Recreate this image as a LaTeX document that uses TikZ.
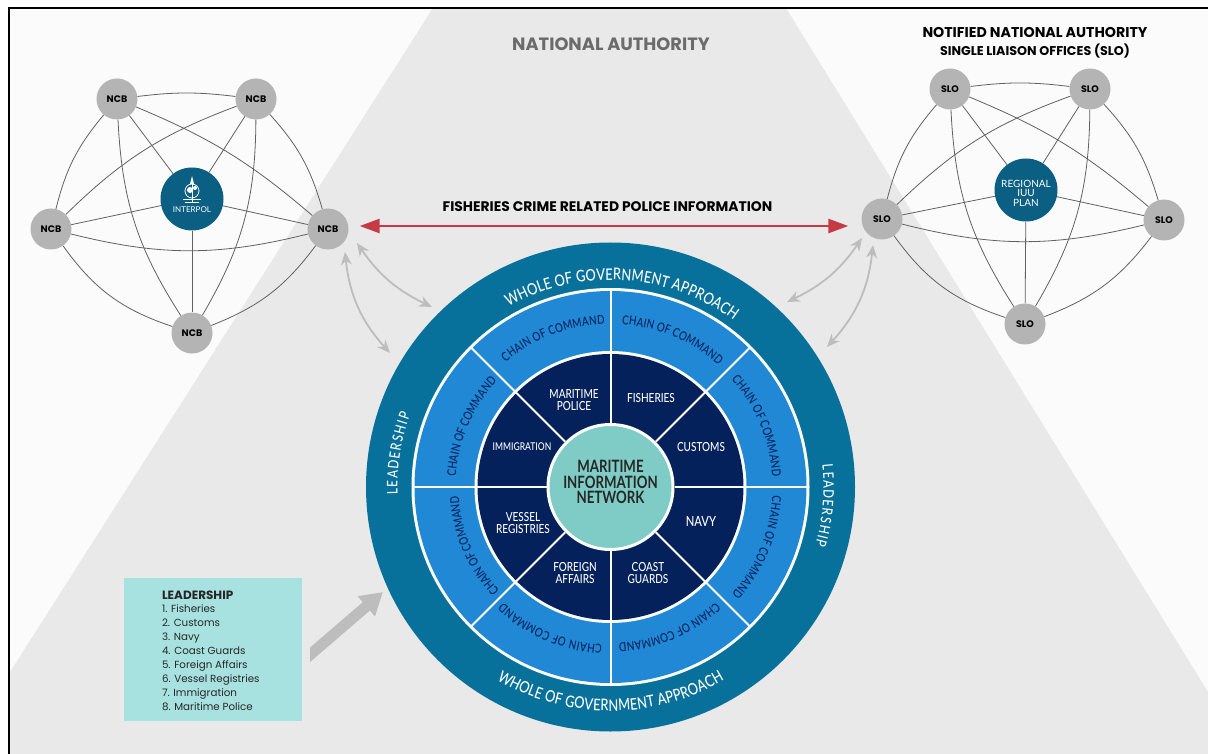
\documentclass[tikz,border=0pt]{standalone}
\usepackage{fontspec}
\setmainfont{Lato}
\newfontfamily\futfont{Poppins}
\newfontfamily\chainfont[FakeStretch=0.8]{Lato Medium}
\newfontfamily\centerfont[FakeStretch=0.78]{Lato Bold}
\usepackage{tikz}
\usetikzlibrary{arrows.meta,decorations.text,positioning,calc}
\definecolor{bggray}{HTML}{E9E9E9}
\definecolor{paper}{HTML}{FBFBFB}
\definecolor{nodegray}{HTML}{B4B4B4}
\definecolor{hubblue}{HTML}{0B5F82}
\definecolor{outerblue}{HTML}{07719B}
\definecolor{midblue}{HTML}{2088D4}
\definecolor{navy}{HTML}{04215C}
\definecolor{tealc}{HTML}{7FCCC6}
\definecolor{legendc}{HTML}{A8E2E0}
\definecolor{redarrow}{HTML}{C63A45}
\definecolor{grayarrow}{HTML}{BDBDBD}
\tikzset{
  netnode/.style={circle,fill=nodegray,minimum size=41pt,inner sep=0pt,font=\futfont\fontsize{9.5}{10}\bfseries\selectfont},
  hubnode/.style={circle,fill=hubblue,minimum size=63pt,inner sep=0pt},
  netline/.style={draw=black!62,line width=0.8pt},
  wheeltext/.style={text=white,align=center,font=\chainfont\fontsize{12.5}{12.5}\selectfont},
  title/.style={font=\futfont\fontsize{13.9}{15}\bfseries\selectfont},
  ringtext/.style={decorate,decoration={text along path,text align=fit to path,text color=white,text={|\chainfont\fontsize{16}{17}\selectfont|WHOLE OF GOVERNMENT APPROACH}}},
  leadertext/.style={decorate,decoration={text along path,text align=fit to path,text color=white,text={|\chainfont\fontsize{14.5}{16}\selectfont|LEADERSHIP}}},
  chaintext/.style={decorate,decoration={text along path,text align=fit to path,text color=navy,text={|\chainfont\fontsize{12.3}{13}\selectfont|CHAIN OF COMMAND}}},
  grayboth/.style={grayarrow,line width=1.8pt,{Stealth[length=13pt,width=11pt]}-{Stealth[length=13pt,width=11pt]}},
}
\begin{document}
\begin{tikzpicture}[x=1pt,y=1pt]
  \useasboundingbox (0,0) rectangle (1208,-754);
  \fill[white] (0,0) rectangle (1208,-754);
  \fill[paper] (8,-8) rectangle (1208,-754);
  \fill[bggray] (433,-8) -- (786,-8) -- (1208,-692) -- (1208,-754) -- (10,-754) -- (10,-672) -- cycle;
  \draw[black,line width=2pt] (9,-754) -- (9,-8) -- (1208,-8);

  % wheel
  \coordinate (hub) at (610.5,-487);
  \fill[outerblue] (hub) circle (244.5);
  \fill[white] (hub) circle (199);
  \fill[midblue] (hub) circle (196);
  \fill[white] (hub) circle (136);
  \fill[navy] (hub) circle (133);
  \foreach \a in {0,45,...,315}
    \draw[white,line width=2pt] ($(hub)+(\a:64)$) -- ($(hub)+(\a:197)$);
  \node[circle,fill=tealc,draw=white,line width=3pt,minimum size=125pt,inner sep=0pt] (network) at (hub) {};
  \node[align=center,font=\centerfont\fontsize{17}{15.5}\selectfont,text=black!85] (networktext) at (610.5,-482) {MARITIME\\INFORMATION\\NETWORK};

  \path[ringtext] ($(hub)+(119.5:207)$) arc (119.5:53.5:207);
  \path[ringtext] ($(hub)+(239.5:224)$) arc (239.5:300.5:224);
  \path[leadertext] ($(hub)+(182:213)$) arc (182:160:213);
  \path[leadertext] ($(hub)+(6:213)$) arc (6:-16:213);
  \foreach \st/\en/\ra in {130/92/163,86/48.5/163,41.7/3.5/162,-3/-41.6/162,-47.7/-87/156,-93/-132.8/158,223/183.5/152,176/137/155}
    \path[chaintext] ($(hub)+(\st:\ra)$) arc (\st:\en:\ra);

  \node[wheeltext] (police) at (574,-400) {MARITIME\\POLICE};
  \node[wheeltext] (fisheries) at (651,-398) {FISHERIES};
  \node[wheeltext,font=\chainfont\fontsize{10.7}{11}\selectfont] (immigration) at (522,-447) {IMMIGRATION};
  \node[wheeltext] (customs) at (701,-447) {CUSTOMS};
  \node[wheeltext] (vessel) at (523,-523) {VESSEL\\REGISTRIES};
  \node[wheeltext,font=\chainfont\fontsize{14}{14}\selectfont] (navyl) at (701,-521) {NAVY};
  \node[wheeltext] (foreign) at (575,-573) {FOREIGN\\AFFAIRS};
  \node[wheeltext] (coast) at (648,-573) {COAST\\GUARDS};

  % NCB network
  \node[netnode] (ncbA) at (117,-99) {NCB};
  \node[netnode] (ncbB) at (256,-99) {NCB};
  \node[netnode] (ncbC) at (51,-229) {NCB};
  \node[netnode] (ncbD) at (328,-229) {NCB};
  \node[netnode] (ncbE) at (192,-333) {NCB};
  \node[hubnode] (interpol) at (192,-199) {};
  \node[text=white,inner sep=0pt,font=\fontsize{8}{9}\selectfont] (interpolname) at (192,-210) {INTERPOL};
  \draw[white,line width=.8pt] (192,-191) circle (7);
  \fill[white] (190,-190) circle (3) (195,-188) circle (2);
  \fill[white] (192,-176) -- (194,-184) -- (190,-184) -- cycle;
  \draw[white,line width=1pt] (192,-184) -- (192,-203) (183,-200) -- (201,-200) (185,-203) -- (199,-203);
  \foreach \a/\b/\c in {A/B/7,C/A/13,B/D/13,E/C/18,D/E/16,D/C/14,E/A/15,B/E/15,A/D/9,C/B/12}
    \draw[netline] (ncb\a) to[bend left=\c] (ncb\b);
  \foreach \a in {A,B,C,D,E}
    \draw[netline] (interpol) -- (ncb\a);

  % SLO network
  \node[netnode] (sloA) at (950,-89) {SLO};
  \node[netnode] (sloB) at (1090,-89) {SLO};
  \node[netnode] (sloC) at (882,-219) {SLO};
  \node[netnode] (sloD) at (1164,-220) {SLO};
  \node[netnode] (sloE) at (1025,-324) {SLO};
  \node[hubnode] (plan) at (1026,-190) {};
  \node[text=white,align=center,inner sep=0pt,font=\fontsize{10}{9.5}\selectfont] (plantext) at (1026,-193) {REGIONAL\\IUU\\PLAN};
  \foreach \a/\b/\c in {A/B/7,C/A/13,B/D/13,E/C/18,D/E/16,D/C/14,E/A/15,B/E/15,A/D/9,C/B/12}
    \draw[netline] (slo\a) to[bend left=\c] (slo\b);
  \foreach \a in {A,B,C,D,E}
    \draw[netline] (plan) -- (slo\a);

  % arrows
  \draw[redarrow,line width=2.8pt,{Triangle[length=20pt,width=14pt]}-{Triangle[length=20pt,width=14pt]},shorten <=11pt,shorten >=13pt]
    ([yshift=3pt]ncbD.east) -- ([yshift=-7pt]sloC.west);
  \node[title] (crime) at (607.5,-207) {FISHERIES CRIME RELATED POLICE INFORMATION};
  \coordinate (ncbTipA) at (345,-252);
  \coordinate (ncbEndA) at (390,-353);
  \coordinate (ncbTipB) at (357,-243);
  \coordinate (ncbEndB) at (432,-307);
  \coordinate (sloTipA) at (862,-238);
  \coordinate (sloEndA) at (787,-302);
  \coordinate (sloTipB) at (873,-245);
  \coordinate (sloEndB) at (827,-347);
  \draw[grayboth] (ncbTipA) to[bend right=18] (ncbEndA);
  \draw[grayboth] (ncbTipB) to[bend right=15] (ncbEndB);
  \draw[grayboth] (sloTipA) to[bend left=15] (sloEndA);
  \draw[grayboth] (sloTipB) to[bend left=18] (sloEndB);

  % titles
  \node[title,text=black!58,font=\futfont\fontsize{17.8}{19}\bfseries\selectfont] (national) at (611,-44) {NATIONAL AUTHORITY};
  \node[title,font=\futfont\fontsize{14.2}{15}\bfseries\selectfont] (notified) at (1035,-32) {NOTIFIED NATIONAL AUTHORITY};
  \node[title,font=\futfont\fontsize{12.7}{14}\bfseries\selectfont] (single) at (1035,-51) {SINGLE LIAISON OFFICES (SLO)};

  % legend
  \node[fill=legendc,minimum width=178pt,minimum height=143pt,inner sep=0pt] (legendbox) at (213,-649.5) {};
  \node[anchor=west,align=left,inner sep=0pt,font=\futfont\fontsize{10.3}{13.9}\selectfont,text=black!85] (legendlist) at ([xshift=38pt,yshift=-1pt]legendbox.west)
    {{\fontsize{12}{13.9}\selectfont\textbf{LEADERSHIP}}\\1. Fisheries\\2. Customs\\3. Navy\\4. Coast Guards\\5. Foreign Affairs\\6. Vessel Registries\\7. Immigration\\8. Maritime Police};
  \begin{scope}
    \clip (310,-560) rectangle (420,-700);
    \coordinate (bigTail) at (290,-672);
    \coordinate (bigTip) at (383,-592);
    \draw[grayarrow,line width=11pt,-{Triangle[length=22pt,width=25pt]}] (bigTail) -- (bigTip);
  \end{scope}
\end{tikzpicture}
\end{document}
